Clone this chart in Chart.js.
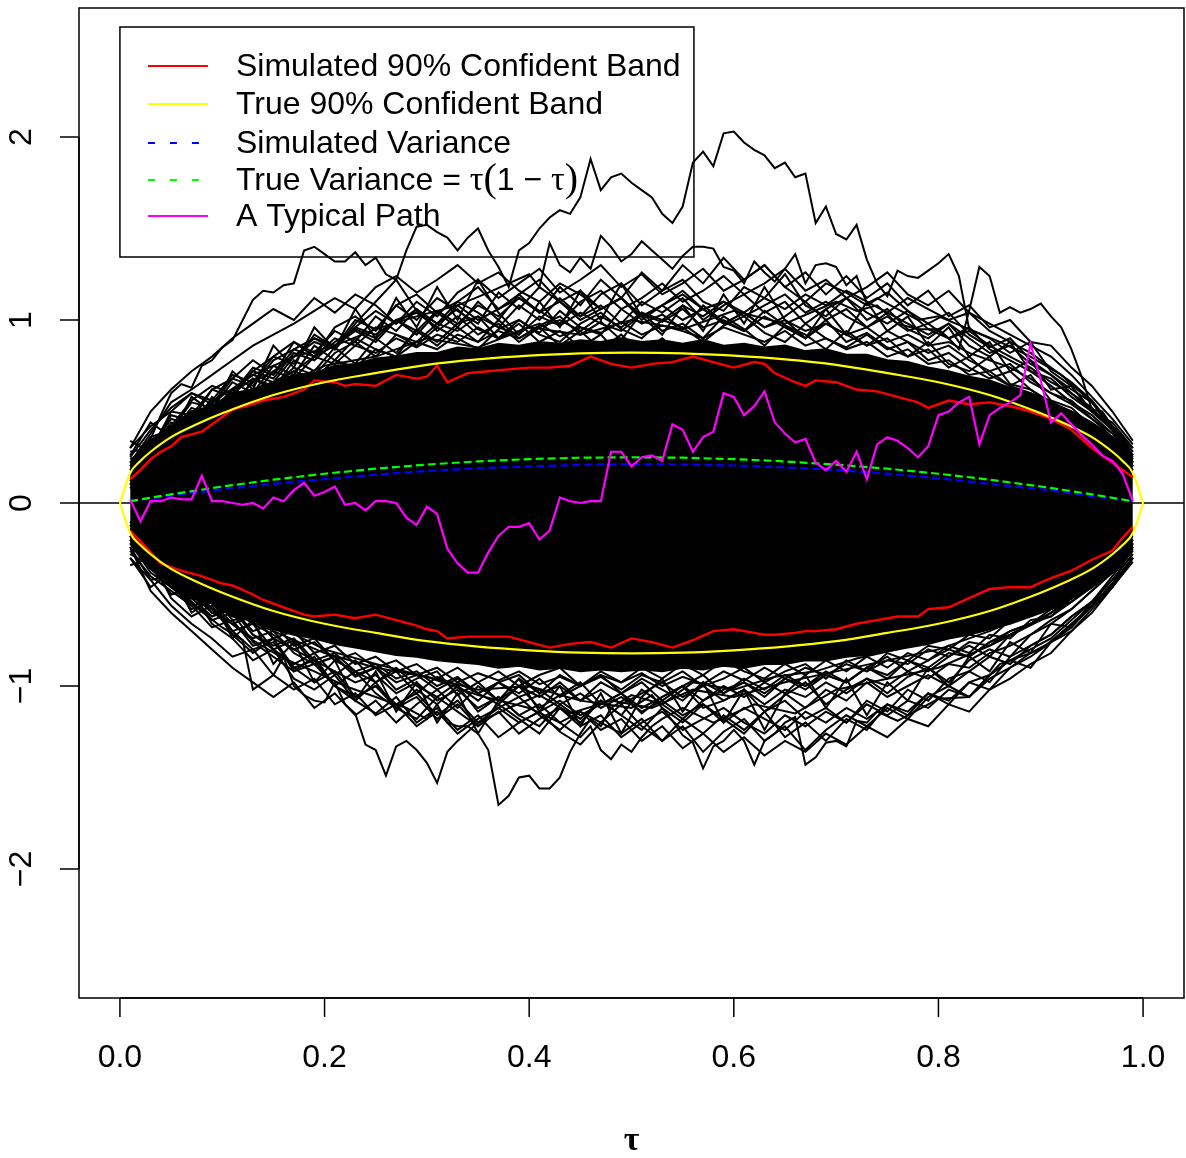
<!DOCTYPE html>
<html>
<head>
<meta charset="utf-8">
<script src="https://cdn.jsdelivr.net/npm/chart.js@4.4.0/dist/chart.umd.min.js"></script>
<style>
  html, body { margin: 0; padding: 0; background: #fff; }
  #wrap { width: 1186px; height: 1158px; }
</style>
</head>
<body>
<div id="wrap"><canvas id="myChart" width="1186" height="1158"></canvas></div>
<script>
// Ejes
const xMin = -0.04, xMax = 1.04;
const yMin = -2.705, yMax = 2.705;
const xTicks = [0, 0.2, 0.4, 0.6, 0.8, 1.0];
const xTickLabels = ['0.0', '0.2', '0.4', '0.6', '0.8', '1.0'];
const yTicks = [-2, -1, 0, 1, 2];
const yTickLabels = ['\u22122', '\u22121', '0', '1', '2'];
const zeroLine = [0];

// Leyenda
const legendLabels = ['Simulated 90% Confident Band', 'True 90% Confident Band', 'Simulated Variance', 'True Variance', 'A Typical Path'];

// Malla de tau (cada 0.02)
const tauGrid = [0.01,0.03,0.05,0.07,0.09,0.11,0.13,0.15,0.17,0.19,0.21,0.23,0.25,0.27,0.29,0.31,0.33,0.35,0.37,0.39,
  0.41,0.43,0.45,0.47,0.49,0.51,0.53,0.55,0.57,0.59,0.61,0.63,0.65,0.67,0.69,0.71,0.73,0.75,0.77,0.79,
  0.81,0.83,0.85,0.87,0.89,0.91,0.93,0.95,0.97,0.99];

// Masa negra central (envolvente densa)
const coreUpper = [.22,.34,.42,.50,.53,.60,.62,.66,.70,.71,.75,.76,.79,.80,.82,.82,.85,.84,.87,.86,
  .88,.87,.89,.88,.90,.88,.89,.87,.89,.86,.87,.85,.86,.83,.84,.81,.81,.78,.77,.74,
  .72,.69,.67,.63,.60,.55,.50,.44,.36,.24];
const coreLower = [-.22,-.36,-.44,-.52,-.55,-.62,-.64,-.69,-.72,-.74,-.77,-.79,-.81,-.83,-.84,-.86,-.87,-.88,-.90,-.89,
  -.91,-.90,-.92,-.91,-.92,-.91,-.92,-.90,-.91,-.89,-.90,-.88,-.88,-.86,-.86,-.84,-.83,-.81,-.79,-.77,
  -.74,-.72,-.69,-.66,-.62,-.58,-.52,-.46,-.38,-.24];

// Trayectorias de la malla exterior (superior)
const meshU1 = [.20,.36,.40,.55,.52,.66,.60,.75,.70,.86,.78,.90,.84,.80,.95,.88,.98,1.02,.90,1.00,.93,1.05,.96,.92,1.06,.98,1.03,.95,1.08,.99,.94,1.05,.97,.90,1.00,.88,.93,.85,.80,.88,.76,.72,.80,.65,.62,.55,.50,.40,.36,.22];
const meshU2 = [.28,.30,.48,.45,.62,.58,.72,.80,.76,.92,.85,1.00,.95,1.08,1.00,1.12,1.05,.98,1.15,1.06,1.18,1.10,1.02,1.14,1.20,1.08,1.16,1.22,1.10,1.05,1.18,1.12,1.25,1.08,1.02,1.12,1.00,1.06,.95,.90,.98,.86,.80,.88,.72,.68,.58,.50,.42,.30];
const meshU3 = [.15,.28,.44,.40,.58,.50,.68,.62,.78,.72,.85,.76,.90,.82,.94,.86,.96,.88,1.00,.90,.97,1.02,.92,.99,.89,1.04,.94,.98,.90,1.02,.95,.86,.97,.92,.84,.94,.86,.90,.80,.84,.74,.80,.70,.64,.70,.56,.52,.42,.30,.18];
const meshU4 = [.10,.25,.32,.45,.50,.62,.70,.66,.80,.90,.84,.96,1.05,.98,1.10,1.02,1.15,1.22,1.12,1.20,1.28,1.15,1.22,1.30,1.18,1.25,1.14,1.20,1.28,1.16,1.22,1.30,1.18,1.10,1.20,1.15,1.08,1.15,1.05,.98,1.04,.92,.85,.90,.78,.70,.62,.55,.40,.28];
const meshU5 = [.25,.40,.52,.60,.56,.70,.66,.80,.88,.82,.94,.88,1.02,.94,1.06,.98,1.10,1.04,.96,1.08,1.00,1.12,1.02,1.08,.98,1.10,1.04,1.12,1.00,1.08,1.14,1.04,1.10,.98,1.06,1.12,1.04,.98,1.05,.95,.90,.96,.84,.78,.72,.64,.55,.48,.38,.25];
const meshU6 = [.18,.32,.38,.50,.46,.60,.68,.64,.74,.70,.82,.88,.80,.92,.86,.96,.90,.84,.95,1.00,.92,.88,.98,1.04,.95,.90,1.00,.96,.88,.97,1.02,.93,.88,.98,.90,.85,.92,.84,.88,.78,.82,.74,.68,.72,.62,.54,.48,.40,.32,.20];
const meshU7 = [.30,.42,.50,.48,.62,.68,.64,.78,.84,.80,.90,.86,.96,.92,.88,.98,.94,1.02,.96,.92,1.02,.97,1.04,.98,.94,1.03,.99,1.06,.96,1.00,.94,1.02,.96,.90,.98,.92,.86,.94,.88,.82,.86,.78,.72,.76,.66,.60,.54,.46,.36,.26];
const meshU8 = [.12,.22,.38,.52,.48,.60,.72,.68,.82,.78,.88,.95,.90,1.00,.94,1.05,.98,1.08,1.02,1.12,1.05,.98,1.10,1.16,1.06,1.12,1.20,1.10,1.16,1.24,1.14,1.20,1.28,1.16,1.22,1.12,1.18,1.26,1.14,1.08,1.16,1.04,.98,.92,.86,.80,.70,.58,.46,.32];
const meshU9 = [.24,.30,.46,.42,.56,.54,.66,.72,.68,.80,.76,.86,.82,.90,.85,.92,.88,.96,.90,.94,.98,.91,.96,.93,.99,.92,.97,.94,.90,.96,.92,.88,.94,.86,.90,.84,.88,.80,.84,.76,.78,.70,.72,.64,.60,.56,.48,.42,.34,.22];
const meshU10 = [.22,.38,.55,.62,.70,.78,.86,.92,.98,1.05,1.12,1.06,1.18,1.24,1.15,1.22,1.30,1.20,1.26,1.16,1.10,1.20,1.14,1.06,1.12,1.02,1.08,1.00,1.06,.98,1.04,.96,1.00,.94,.98,.92,.96,.88,.92,.86,.88,.82,.78,.74,.68,.60,.56,.46,.38,.24];
const meshU11 = [.16,.34,.42,.56,.64,.60,.74,.70,.84,.90,.86,.96,.92,1.00,1.04,.96,1.08,1.00,1.06,1.12,1.04,1.10,1.00,1.06,1.12,1.02,1.08,1.14,1.06,1.10,1.02,1.08,1.14,1.04,1.10,1.02,.96,1.02,.94,.98,.90,.94,.86,.80,.74,.66,.60,.50,.40,.26];
const meshU12 = [.20,.26,.36,.46,.54,.50,.62,.66,.72,.68,.78,.74,.84,.80,.88,.84,.92,.88,.94,.90,.96,1.00,.94,1.02,.96,1.04,1.00,1.08,1.02,1.10,1.04,1.12,1.06,1.14,1.08,1.16,1.10,1.04,1.12,1.06,1.00,1.04,.94,.88,.82,.74,.66,.56,.42,.28];
const meshU13 = [.30,.50,.62,.72,.80,.90,.98,1.06,1.00,1.12,1.04,1.14,1.08,.98,1.06,.94,1.02,.92,.98,.88,.96,.86,.94,.84,.92,.82,.90,.80,.88,.78,.86,.76,.84,.74,.80,.70,.76,.66,.72,.62,.68,.58,.62,.52,.56,.46,.42,.36,.28,.18];
const meshU14 = [.12,.20,.30,.36,.46,.52,.58,.66,.72,.80,.86,.94,.88,1.00,.92,1.04,.96,1.10,1.00,1.14,1.04,1.18,1.08,1.22,1.12,1.26,1.16,1.30,1.20,1.34,1.22,1.30,1.18,1.26,1.14,1.24,1.12,1.20,1.08,1.16,1.02,1.08,.96,1.00,.88,.86,.74,.64,.50,.34];
const meshU15 = [.26,.44,.36,.58,.50,.72,.62,.86,.74,.96,.84,1.06,.90,1.12,.96,1.18,1.00,1.22,1.04,.92,1.10,.96,1.16,1.00,1.20,1.02,.92,1.08,.94,1.14,.98,1.18,1.00,.90,1.06,.92,1.10,.94,1.02,.86,.96,.80,.88,.72,.78,.62,.64,.50,.44,.30];
const meshU16 = [.34,.28,.50,.60,.54,.68,.78,.70,.88,.80,.96,1.02,.94,1.08,1.14,1.04,1.10,1.18,1.06,1.14,1.22,1.10,1.16,1.06,1.12,1.00,1.08,1.16,1.06,.98,1.04,.96,1.02,1.10,1.00,1.06,.96,1.04,.98,.92,.98,.90,.82,.86,.76,.70,.60,.52,.40,.26];

// Trayectorias de la malla exterior (inferior)
const meshLa = [-.22,-.38,-.46,-.55,-.62,-.58,-.72,-.80,-.75,-.88,-.84,-.95,-.90,-1.02,-.96,-.92,-1.05,-.98,-1.08,-1.00,-1.12,-1.05,-.98,-1.10,-1.04,-1.15,-1.06,-1.00,-1.12,-1.08,-1.02,-1.14,-1.05,-.98,-1.10,-1.02,-.96,-1.04,-.95,-.90,-.98,-.86,-.80,-.84,-.72,-.66,-.58,-.48,-.38,-.25];
const meshLb = [-.18,-.34,-.50,-.48,-.66,-.74,-.86,-.80,-.96,-1.02,-.94,-1.08,-1.15,-1.06,-1.20,-1.12,-1.24,-1.16,-1.28,-1.20,-1.14,-1.25,-1.32,-1.20,-1.26,-1.18,-1.30,-1.22,-1.36,-1.25,-1.18,-1.30,-1.22,-1.35,-1.24,-1.16,-1.22,-1.12,-1.18,-1.06,-1.00,-1.06,-.94,-.86,-.90,-.76,-.68,-.56,-.44,-.30];
const meshLc = [-.25,-.30,-.42,-.52,-.50,-.64,-.62,-.74,-.70,-.82,-.78,-.88,-.84,-.92,-.88,-.96,-.90,-.98,-.92,-1.00,-.94,-.90,-1.00,-.95,-1.02,-.94,-.98,-.92,-1.00,-.96,-.90,-.98,-.92,-.88,-.96,-.86,-.92,-.82,-.86,-.78,-.80,-.72,-.74,-.64,-.60,-.56,-.48,-.42,-.32,-.20];
const meshLd = [-.30,-.42,-.40,-.56,-.68,-.64,-.78,-.74,-.90,-.86,-1.00,-.92,-1.04,-1.12,-1.02,-1.10,-1.00,-1.14,-1.06,-1.16,-1.22,-1.10,-1.18,-1.08,-1.16,-1.24,-1.12,-1.20,-1.10,-1.18,-1.26,-1.14,-1.08,-1.18,-1.12,-1.20,-1.08,-1.14,-1.02,-1.08,-.96,-.92,-.98,-.84,-.78,-.72,-.62,-.54,-.40,-.26];
const meshLe = [-.20,-.36,-.46,-.44,-.58,-.70,-.66,-.80,-.88,-.82,-.94,-.86,-.98,-.92,-1.04,-.95,-1.00,-1.08,-.98,-1.04,-.96,-1.06,-1.00,-.94,-1.04,-.98,-1.08,-1.00,-.94,-1.04,-.98,-1.06,-.96,-1.02,-.94,-.98,-.90,-.96,-.86,-.92,-.84,-.78,-.84,-.72,-.66,-.60,-.52,-.44,-.34,-.22];
const meshLf = [-.16,-.30,-.44,-.58,-.54,-.70,-.80,-.76,-.90,-.98,-.92,-1.06,-1.00,-1.10,-1.04,-1.16,-1.08,-1.20,-1.12,-1.06,-1.16,-1.24,-1.14,-1.20,-1.10,-1.22,-1.30,-1.18,-1.26,-1.16,-1.24,-1.14,-1.28,-1.20,-1.30,-1.18,-1.24,-1.10,-1.16,-1.04,-1.10,-.98,-1.02,-.90,-.84,-.76,-.70,-.58,-.46,-.32];
const meshLg = [-.26,-.40,-.48,-.56,-.54,-.66,-.74,-.70,-.82,-.88,-.84,-.94,-.90,-.98,-.94,-1.02,-.96,-1.04,-.98,-.94,-1.04,-1.00,-1.08,-.98,-1.04,-.96,-1.02,-1.08,-.98,-1.04,-.96,-1.02,-.94,-1.00,-.92,-.98,-.90,-.84,-.92,-.86,-.80,-.84,-.76,-.70,-.66,-.60,-.52,-.44,-.36,-.24];
const meshLh = [-.14,-.28,-.40,-.54,-.64,-.60,-.76,-.84,-.92,-.88,-1.00,-1.06,-1.00,-1.12,-1.06,-1.18,-1.10,-1.22,-1.14,-1.26,-1.18,-1.12,-1.22,-1.16,-1.28,-1.20,-1.14,-1.24,-1.18,-1.12,-1.20,-1.26,-1.16,-1.22,-1.14,-1.20,-1.10,-1.16,-1.08,-1.12,-1.02,-1.06,-.96,-.90,-.82,-.76,-.66,-.56,-.44,-.30];
const meshLi = [-.28,-.34,-.50,-.46,-.60,-.58,-.70,-.66,-.78,-.74,-.86,-.82,-.90,-.86,-.94,-.90,-.98,-.93,-.97,-.92,-.99,-.95,-1.00,-.94,-.98,-.93,-1.00,-.95,-.99,-.92,-.97,-.90,-.96,-.90,-.94,-.88,-.92,-.86,-.88,-.80,-.84,-.76,-.78,-.70,-.66,-.58,-.54,-.44,-.38,-.24];
const meshLj = [-.18,-.32,-.42,-.50,-.60,-.66,-.62,-.74,-.80,-.76,-.86,-.92,-.88,-.96,-.92,-1.00,-.95,-1.04,-.98,-1.06,-1.02,-1.10,-1.04,-1.12,-1.06,-1.14,-1.08,-1.16,-1.10,-1.20,-1.12,-1.18,-1.24,-1.14,-1.20,-1.12,-1.18,-1.10,-1.14,-1.04,-1.08,-.98,-.94,-.86,-.80,-.74,-.64,-.54,-.42,-.28];
const meshLk = [-.24,-.42,-.56,-.66,-.74,-.84,-.80,-.94,-1.02,-.96,-1.10,-1.04,-1.16,-1.10,-1.22,-1.14,-1.26,-1.18,-1.12,-1.20,-1.14,-1.08,-1.16,-1.10,-1.04,-1.12,-1.06,-1.00,-1.08,-1.02,-.98,-1.04,-.96,-1.00,-.94,-.98,-.90,-.94,-.86,-.90,-.82,-.84,-.76,-.72,-.66,-.62,-.54,-.46,-.36,-.22];
const meshLl = [-.20,-.30,-.46,-.52,-.62,-.58,-.72,-.78,-.74,-.86,-.82,-.92,-.98,-.90,-1.00,-1.06,-.98,-1.04,-1.10,-1.00,-1.06,-.98,-1.08,-1.02,-1.10,-1.04,-.98,-1.06,-1.00,-1.08,-1.02,-1.10,-1.02,-1.06,-.98,-1.04,-.96,-1.00,-.92,-.96,-.88,-.90,-.82,-.78,-.72,-.64,-.58,-.48,-.38,-.26];
const meshLm = [-.30,-.46,-.38,-.60,-.52,-.74,-.64,-.88,-.76,-.98,-.86,-1.08,-.92,-1.14,-.98,-1.20,-1.04,-1.26,-1.08,-.96,-1.14,-1.00,-1.22,-1.04,-1.26,-1.06,-.96,-1.14,-.98,-1.20,-1.02,-1.24,-1.04,-.94,-1.12,-.96,-1.16,-.98,-1.08,-.90,-1.00,-.84,-.92,-.76,-.82,-.66,-.68,-.54,-.46,-.30];
const meshLn = [-.24,-.48,-.60,-.70,-.80,-.90,-.98,-1.06,-.98,-1.12,-1.04,-1.16,-1.08,-1.20,-1.10,-1.02,-1.12,-1.00,-1.08,-.96,-1.04,-.94,-1.00,-.92,-.98,-.90,-.96,-.88,-.94,-.86,-.92,-.96,-.88,-.94,-.86,-.92,-.84,-.90,-.82,-.86,-.78,-.82,-.72,-.74,-.64,-.62,-.52,-.46,-.34,-.20];
const meshLo = [-.12,-.22,-.32,-.42,-.50,-.58,-.66,-.72,-.80,-.86,-.92,-.98,-.94,-1.04,-.98,-1.08,-1.02,-1.12,-1.06,-1.16,-1.10,-1.20,-1.14,-1.24,-1.18,-1.30,-1.22,-1.34,-1.26,-1.36,-1.28,-1.38,-1.30,-1.36,-1.26,-1.32,-1.22,-1.28,-1.18,-1.22,-1.10,-1.14,-1.02,-.96,-.88,-.82,-.70,-.60,-.46,-.30];
const meshLp = [-.34,-.30,-.52,-.62,-.56,-.72,-.82,-.74,-.92,-.84,-1.00,-1.08,-.98,-1.12,-1.18,-1.06,-1.14,-1.22,-1.10,-1.18,-1.26,-1.12,-1.20,-1.08,-1.16,-1.02,-1.10,-1.18,-1.08,-1.00,-1.06,-.98,-1.04,-1.12,-1.02,-1.08,-.98,-1.06,-1.00,-.94,-1.00,-.92,-.84,-.88,-.78,-.72,-.62,-.54,-.42,-.28];

// Trayectorias extremas
const tauA = [.01,.03,.05,.07,.09,.11,.13,.15,.17,.19,.21,.23,.25,.27,
  .28,.29,.30,.31,.32,.33,.34,.35,.36,.37,.38,.39,.40,.41,.42,.43,.44,.45,.46,.47,.48,.49,.50,.51,.52,.53,.54,.55,
  .56,.57,.58,.59,.60,.61,.62,.63,.64,.65,.66,.67,.68,.69,.70,.71,.72,.73,.74,.75,.76,.77,.78,.79,.80,.81,.82,.83,
  .85,.87,.89,.91,.93,.95,.97,.99];
const pathA = [.08,.20,.30,.42,.50,.62,.58,.72,.80,.88,.84,.98,1.10,1.22,
  1.38,1.51,1.52,1.48,1.45,1.38,1.45,1.50,1.38,1.29,1.18,1.38,1.42,1.50,1.56,1.60,1.58,1.67,1.88,1.71,1.78,1.80,1.75,1.71,1.67,1.58,1.53,1.62,
  1.86,1.92,1.84,2.02,2.03,1.97,1.93,1.90,1.83,1.86,1.78,1.80,1.53,1.62,1.47,1.44,1.52,1.33,1.20,1.13,1.27,1.24,1.23,1.27,1.31,1.36,1.24,.95,
  .90,.82,.88,.72,.64,.50,.40,.20];
const tauB = [.01,.02,.03,.04,.05,.06,.07,.08,.09,.10,.11,.12,.13,.14,.15,.16,.17,.18,.19,.20,.21,.22,.23,.24,.25,.26,.27,
  .29,.31,.33,.35,.37,.39,.41,.43,.45,.47,.49,.51,.55,.59,.63,.67,.71,.75,.79,.83,.87,.91,.95,.99];
const pathB = [.15,.30,.35,.48,.60,.65,.63,.75,.78,.85,.89,1.00,1.11,1.16,1.15,1.19,1.20,1.38,1.40,1.36,1.32,1.32,1.37,1.30,1.34,1.25,1.22,
  1.05,.98,1.06,.95,.90,.98,.88,.94,.85,.92,.80,.88,.78,.84,.74,.80,.70,.66,.58,.52,.44,.36,.26,.14];
const tauC = [.01,.05,.09,.13,.17,.21,.25,.29,.33,.36,.38,.40,
  .41,.42,.43,.44,.45,.46,.47,.48,.49,.50,.51,.52,.53,.54,.55,.56,.57,.58,.59,.60,.61,.62,.63,.64,.65,.66,.67,.68,.69,.70,.71,.72,.73,.74,
  .76,.78,.80,.83,.86,.89,.92,.95,.98,.99];
const pathC = [.10,.38,.55,.70,.80,.86,.95,1.02,1.08,1.15,1.20,1.25,
  1.18,1.42,1.30,1.26,1.34,1.28,1.46,1.40,1.32,1.36,1.43,1.38,1.33,1.28,1.35,1.40,1.40,1.39,1.29,1.27,1.20,1.32,1.26,1.21,1.28,1.36,1.20,1.30,1.31,1.29,1.19,1.24,1.09,1.12,
  1.06,1.00,1.02,.95,.88,.80,.70,.55,.35,.22];
const tauF = [.01,.05,.10,.15,.20,.25,.30,.35,.40,.45,.50,.55,.60,.65,.70,.72,.74,.76,.78,.80,
  .81,.82,.83,.84,.85,.86,.87,.88,.89,.90,.91,.92,.93,.94,.95,.96,.97,.98,.99];
const pathF = [.12,.30,.55,.62,.75,.80,.90,.85,.96,.92,1.0,.95,1.05,.98,1.10,1.05,1.08,.98,.95,.95,
  .90,.84,1.05,1.29,1.24,1.04,1.07,1.04,1.06,1.09,1.02,.96,.84,.69,.51,.50,.42,.30,.20];
const tauL1 = [.01,.04,.07,.10,.13,.16,.19,.22,.25,.28,
  .30,.31,.32,.33,.34,.35,.36,.37,.38,.39,.40,.41,.42,.43,.44,.45,.46,.47,.48,
  .50,.53,.56,.60,.64,.68,.72,.76,.80,.84,.88,.92,.96,.99];
const pathL1 = [-.12,-.35,-.50,-.62,-.75,-.85,-.92,-1.00,-1.06,-1.12,
  -1.18,-1.10,-1.20,-1.22,-1.22,-1.26,-1.35,-1.65,-1.60,-1.50,-1.49,-1.56,-1.56,-1.50,-1.36,-1.26,-1.18,-1.22,-1.12,
  -1.05,-1.10,-.98,-1.02,-.95,-.92,-.85,-.80,-.72,-.66,-.56,-.45,-.30,-.15];
const tauL2 = [.01,.04,.07,.10,
  .12,.13,.14,.15,.16,.17,.18,.19,.20,.21,.22,.23,.24,.25,.26,.27,.28,.29,.30,.31,.32,.33,
  .35,.38,.41,.44,.48,.52,.56,.60,.65,.70,.75,.80,.85,.90,.95,.99];
const pathL2 = [-.18,-.38,-.55,-.68,
  -.75,-1.02,-.98,-.94,-.84,-1.00,-1.05,-1.08,-1.09,-.98,-1.10,-1.15,-1.32,-1.35,-1.49,-1.33,-1.30,-1.35,-1.42,-1.53,-1.36,-1.30,
  -1.20,-1.12,-1.05,-1.15,-1.08,-1.12,-1.02,-1.06,-.98,-.92,-.86,-.80,-.70,-.58,-.40,-.20];
const tauL3 = [.01,.05,.10,.15,.20,.25,.30,.35,.40,.45,.50,.52,.54,
  .55,.56,.57,.58,.59,.60,.61,.62,.63,.64,.65,.66,.67,.68,.69,.70,.71,.72,.73,.74,
  .76,.78,.80,.83,.86,.90,.94,.97,.99];
const pathL3 = [-.10,-.40,-.58,-.70,-.82,-.90,-.95,-1.02,-1.00,-1.08,-1.12,-1.05,-1.19,
  -1.27,-1.31,-1.45,-1.33,-1.30,-1.24,-1.30,-1.43,-1.30,-1.26,-1.20,-1.17,-1.43,-1.39,-1.31,-1.30,-1.33,-1.19,-1.20,-1.14,
  -1.19,-1.13,-1.07,-1.06,-.88,-.80,-.62,-.45,-.22];
const tauL4 = [.01,.05,.10,.15,.20,.25,.30,.35,.40,.43,.45,.46,.47,.48,.49,.50,.51,.52,.53,.55,.58,.62,.66,.70,.75,.80,.85,.90,.95,.99];
const pathL4 = [-.14,-.36,-.52,-.66,-.80,-.88,-.95,-1.05,-1.12,-1.20,-1.28,-1.22,-1.35,-1.40,-1.32,-1.36,-1.28,-1.22,-1.18,-1.12,-1.20,-1.10,-1.15,-1.02,-.96,-.90,-.78,-.64,-.44,-.18];

// Trayectoria típica (magenta)
const tauTypical = [.01,.02,.03,.04,.05,.06,.07,.08,.09,.10,.11,.12,.13,.14,.15,.16,.17,.18,.19,.20,
  .21,.22,.23,.24,.25,.26,.27,.28,.29,.30,.31,.32,.33,.34,.35,.36,.37,.38,.39,.40,
  .41,.42,.43,.44,.45,.46,.47,.48,.49,.50,.51,.52,.53,.54,.55,.56,.57,.58,.59,.60,
  .61,.62,.63,.64,.65,.66,.67,.68,.69,.70,.71,.72,.73,.74,.75,.76,.77,.78,.79,.80,
  .81,.82,.83,.84,.85,.86,.87,.88,.89,.90,.91,.92,.93,.94,.95,.96,.97,.98,.99];
const typicalPath = [.02,-.10,.01,.01,.03,.02,.02,.15,.01,.01,.00,-.01,.00,-.03,.03,.01,.07,.11,.04,.06,
  .09,-.01,.00,-.04,.01,.01,.00,-.08,-.12,-.02,-.06,-.25,-.33,-.38,-.38,-.27,-.18,-.13,-.13,-.11,
  -.20,-.15,.03,.01,.00,.01,.01,.28,.28,.20,.25,.26,.23,.43,.40,.28,.36,.39,.60,.58,
  .48,.53,.61,.44,.38,.33,.35,.22,.18,.23,.17,.28,.13,.32,.36,.34,.30,.25,.31,.48,
  .50,.55,.58,.32,.48,.52,.55,.59,.87,.67,.44,.49,.43,.37,.32,.26,.23,.16,.01];

// Banda simulada del 90% (roja)
const redTau = [.01,.02,.03,.04,.05,.06,.08,.10,.11,.13,.14,.16,.18,.19,.21,.22,.23,.25,.27,.29,
  .30,.31,.32,.34,.36,.38,.40,.42,.44,.46,.48,.50,.52,.54,.56,.58,.60,.62,.63,.64,
  .66,.67,.68,.70,.72,.74,.76,.78,.79,.81,.83,.85,.87,.89,.91,.93,.95,.97,.98,.99];
const redUpper = [.13,.18,.24,.28,.31,.36,.39,.47,.51,.54,.56,.58,.62,.67,.66,.64,.65,.64,.70,.68,
  .69,.75,.66,.71,.72,.73,.74,.74,.75,.80,.76,.74,.76,.77,.80,.77,.74,.77,.76,.71,
  .66,.64,.67,.66,.62,.61,.58,.55,.52,.56,.54,.55,.53,.50,.46,.40,.30,.22,.18,.14];
const redLower = [-.15,-.21,-.27,-.33,-.35,-.37,-.40,-.44,-.45,-.50,-.53,-.57,-.61,-.62,-.61,-.62,-.63,-.61,-.64,-.67,
  -.69,-.70,-.74,-.73,-.73,-.73,-.76,-.79,-.77,-.76,-.79,-.74,-.76,-.79,-.75,-.70,-.69,-.71,-.72,-.72,
  -.71,-.70,-.70,-.69,-.66,-.64,-.62,-.62,-.58,-.57,-.52,-.47,-.46,-.46,-.41,-.37,-.31,-.26,-.19,-.13];

// Banda verdadera del 90% (amarilla)
const yellowTau = [0,.01,.02,.03,.05,.075,.10,.15,.20,.25,.30,.35,.40,.45,.50,.55,.60,.65,.70,.75,.80,.85,.90,.925,.95,.97,.98,.99,1];
const yellowUpper = [0,.164,.23,.28,.36,.43,.49,.59,.66,.71,.755,.785,.805,.818,.822,.818,.805,.785,.755,.71,.66,.59,.49,.43,.36,.28,.23,.164,0];
const yellowLower = [0,-.164,-.23,-.28,-.36,-.43,-.49,-.59,-.66,-.71,-.755,-.785,-.805,-.818,-.822,-.818,-.805,-.785,-.755,-.71,-.66,-.59,-.49,-.43,-.36,-.28,-.23,-.164,0];

// Varianzas
const varTau = [.01,.05,.10,.15,.20,.25,.30,.35,.40,.45,.50,.55,.60,.65,.70,.75,.80,.85,.90,.95,.99];
const simVariance = [.009,.04,.075,.105,.13,.155,.175,.19,.20,.208,.212,.21,.205,.195,.18,.16,.135,.105,.075,.038,.009];
const trueVariance = [.0099,.0475,.09,.1275,.16,.1875,.21,.2275,.24,.2475,.25,.2475,.24,.2275,.21,.1875,.16,.1275,.09,.0475,.0099];

function pts(ts, vs) {
  return ts.map(function(t, i) { return { x: t, y: vs[i] }; });
}

function blackPath(ts, vs) {
  return { data: pts(ts, vs), borderColor: '#000', borderWidth: 2, fill: false };
}

var SANS = '"Liberation Sans", Arial, Helvetica, sans-serif';
var SERIF = '"Liberation Serif", "DejaVu Serif", serif';

// Marco, ejes y leyenda al estilo R
var rFrame = {
  id: 'rFrame',
  afterDraw: function(chart) {
    var ctx = chart.ctx, a = chart.chartArea;
    var sx = chart.scales.x, sy = chart.scales.y;
    ctx.save();
    ctx.strokeStyle = '#000';
    ctx.lineWidth = 1.5;
    ctx.strokeRect(a.left, a.top, a.right - a.left, a.bottom - a.top);

    // eje x
    ctx.fillStyle = '#000';
    ctx.font = '32px ' + SANS;
    ctx.textAlign = 'center';
    ctx.textBaseline = 'middle';
    ctx.beginPath();
    ctx.moveTo(sx.getPixelForValue(xTicks[0]), a.bottom);
    ctx.lineTo(sx.getPixelForValue(xTicks[xTicks.length - 1]), a.bottom);
    xTicks.forEach(function(v, i) {
      var px = sx.getPixelForValue(v);
      ctx.moveTo(px, a.bottom);
      ctx.lineTo(px, a.bottom + 19);
      ctx.fillText(xTickLabels[i], px, a.bottom + 60);
    });
    ctx.stroke();

    // eje y
    ctx.beginPath();
    ctx.moveTo(a.left, sy.getPixelForValue(yTicks[0]));
    ctx.lineTo(a.left, sy.getPixelForValue(yTicks[yTicks.length - 1]));
    yTicks.forEach(function(v, i) {
      var py = sy.getPixelForValue(v);
      ctx.moveTo(a.left, py);
      ctx.lineTo(a.left - 19, py);
      ctx.save();
      ctx.translate(a.left - 57, py);
      ctx.rotate(-Math.PI / 2);
      ctx.fillText(yTickLabels[i], 0, 0);
      ctx.restore();
    });
    ctx.stroke();

    // etiqueta del eje x
    ctx.font = 'bold 34px ' + SERIF;
    ctx.fillText('\u03c4', (a.left + a.right) / 2, 1141);

    // leyenda
    var lx = sx.getPixelForValue(0), ly = 27;
    ctx.lineWidth = 1.5;
    ctx.strokeRect(lx, ly, 574, 230);
    var rows = [66, 104, 143, 180, 216];
    var cols = ['#ff0000', '#ffff00', '#0000ff', '#00ff00', '#ff00ff'];
    var dashed = [false, false, true, true, false];
    rows.forEach(function(ry, i) {
      ctx.beginPath();
      ctx.strokeStyle = cols[i];
      ctx.lineWidth = 2;
      ctx.setLineDash(dashed[i] ? [7, 15] : []);
      ctx.moveTo(lx + 28, ry);
      ctx.lineTo(lx + 88, ry);
      ctx.stroke();
    });
    ctx.setLineDash([]);
    ctx.textAlign = 'left';
    ctx.textBaseline = 'middle';
    ctx.fillStyle = '#000';
    var tx = lx + 116;
    rows.forEach(function(ry, i) {
      ctx.font = '32px ' + SANS;
      if (i !== 3) {
        ctx.fillText(legendLabels[i], tx, ry + 1);
        return;
      }
      var x = tx;
      var t1 = legendLabels[i] + ' = ';
      ctx.fillText(t1, x, ry + 1); x += ctx.measureText(t1).width;
      ctx.font = '34px ' + SERIF;
      ctx.fillText('\u03c4', x, ry + 1); x += ctx.measureText('\u03c4').width;
      ctx.font = '40px ' + SERIF;
      ctx.fillText('(', x, ry); x += ctx.measureText('(').width;
      ctx.font = '32px ' + SANS;
      ctx.fillText('1 \u2212 ', x, ry + 1); x += ctx.measureText('1 \u2212 ').width;
      ctx.font = '34px ' + SERIF;
      ctx.fillText('\u03c4', x, ry + 1); x += ctx.measureText('\u03c4').width;
      ctx.font = '40px ' + SERIF;
      ctx.fillText(')', x, ry);
    });
    ctx.restore();
  }
};

var meshUpper = [meshU1, meshU2, meshU3, meshU4, meshU5, meshU6, meshU7, meshU8, meshU9, meshU10, meshU11, meshU12, meshU13, meshU14, meshU15, meshU16];
var meshLower = [meshLa, meshLb, meshLc, meshLd, meshLe, meshLf, meshLg, meshLh, meshLi, meshLj, meshLk, meshLl, meshLm, meshLn, meshLo, meshLp];

var datasets = [
  { data: pts(tauTypical, typicalPath), borderColor: '#ff00ff', borderWidth: 2.2, fill: false },
  { data: pts(varTau, trueVariance), borderColor: '#00ff00', borderWidth: 2.2, borderDash: [8, 4], fill: false },
  { data: pts(varTau, simVariance), borderColor: '#0000ff', borderWidth: 2.2, borderDash: [8, 4], fill: false },
  { data: pts(yellowTau, yellowUpper), borderColor: '#ffff00', borderWidth: 2.2, fill: false, cubicInterpolationMode: 'monotone' },
  { data: pts(yellowTau, yellowLower), borderColor: '#ffff00', borderWidth: 2.2, fill: false, cubicInterpolationMode: 'monotone' },
  { data: pts(redTau, redUpper), borderColor: '#ff0000', borderWidth: 2.4, fill: false },
  { data: pts(redTau, redLower), borderColor: '#ff0000', borderWidth: 2.4, fill: false },
  { data: [{ x: xMin, y: zeroLine[0] }, { x: xMax, y: zeroLine[0] }], borderColor: '#000', borderWidth: 1.6, fill: false },
  blackPath(tauA, pathA),
  blackPath(tauB, pathB),
  blackPath(tauC, pathC),
  blackPath(tauF, pathF),
  blackPath(tauL1, pathL1),
  blackPath(tauL2, pathL2),
  blackPath(tauL3, pathL3),
  blackPath(tauL4, pathL4)
];
meshUpper.forEach(function(m) { datasets.push(blackPath(tauGrid, m)); });
meshLower.forEach(function(m) { datasets.push(blackPath(tauGrid, m)); });
datasets.push({ data: pts(tauGrid, coreUpper), borderColor: '#000', borderWidth: 2, backgroundColor: '#000', fill: '+1' });
datasets.push({ data: pts(tauGrid, coreLower), borderColor: '#000', borderWidth: 2, fill: false });

var ctx = document.getElementById('myChart').getContext('2d');
var myChart = new Chart(ctx, {
  type: 'line',
  data: { datasets: datasets },
  options: {
    responsive: false,
    devicePixelRatio: 1,
    animation: false,
    layout: { padding: { left: 79, right: 2, top: 8, bottom: 160 } },
    elements: { point: { radius: 0 }, line: { tension: 0 } },
    plugins: { legend: { display: false }, tooltip: { enabled: false } },
    scales: {
      x: { type: 'linear', min: xMin, max: xMax, display: false },
      y: { type: 'linear', min: yMin, max: yMax, display: false }
    }
  },
  plugins: [rFrame]
});
</script>
</body>
</html>
